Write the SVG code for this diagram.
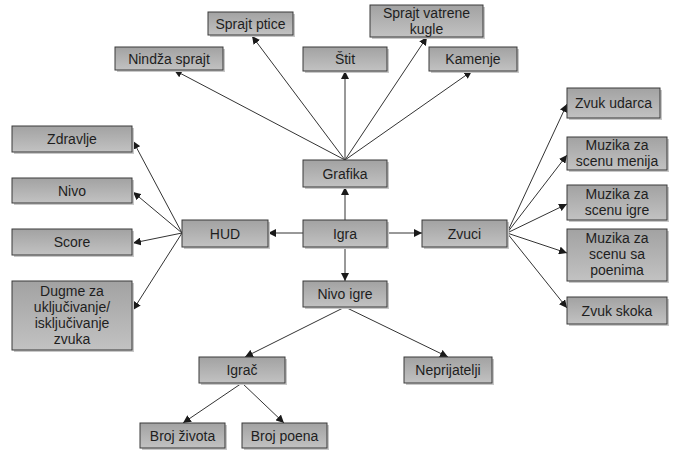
<svg xmlns="http://www.w3.org/2000/svg" width="678" height="451" viewBox="0 0 678 451">
<defs>
<linearGradient id="g" x1="0" y1="0" x2="0" y2="1">
<stop offset="0" stop-color="#a2a2a2"/>
<stop offset="1" stop-color="#c2c2c2"/>
</linearGradient>
<marker id="a" viewBox="0 0 10 10" refX="10" refY="5" markerWidth="8" markerHeight="8" markerUnits="userSpaceOnUse" orient="auto">
<path d="M0,0 L10,5 L0,10 z" fill="#1a1a1a"/>
</marker>
</defs>
<style>
.n rect.b{fill:url(#g);stroke:#3a3a3a;stroke-width:1}
.n rect.s{fill:#c8c8c8;stroke:none}
.n text{font-family:"Liberation Sans",Arial,sans-serif;font-size:14px;fill:#1e1e1e;text-anchor:middle}
#edges line{stroke:#333;stroke-width:1;marker-end:url(#a)}
</style>
<rect width="678" height="451" fill="#fff"/>
<g id="edges">
<line x1="345" y1="220" x2="345" y2="187"/>
<line x1="303" y1="233" x2="268" y2="233"/>
<line x1="387" y1="233" x2="422" y2="233"/>
<line x1="345" y1="247" x2="345" y2="281"/>
<line x1="345" y1="160" x2="174" y2="70"/>
<line x1="345" y1="160" x2="252" y2="36"/>
<line x1="345" y1="160" x2="345" y2="71"/>
<line x1="345" y1="160" x2="427" y2="37"/>
<line x1="345" y1="160" x2="472" y2="71"/>
<line x1="182" y1="233" x2="133" y2="141"/>
<line x1="182" y1="233" x2="133" y2="192"/>
<line x1="182" y1="233" x2="133" y2="243"/>
<line x1="182" y1="233" x2="133" y2="310"/>
<line x1="507" y1="233" x2="567" y2="104"/>
<line x1="507" y1="233" x2="567" y2="155"/>
<line x1="507" y1="233" x2="567" y2="204"/>
<line x1="507" y1="233" x2="567" y2="253"/>
<line x1="507" y1="233" x2="567" y2="308"/>
<line x1="345" y1="307" x2="245" y2="357"/>
<line x1="345" y1="307" x2="448" y2="357"/>
<line x1="242" y1="383" x2="183" y2="423"/>
<line x1="242" y1="383" x2="284" y2="423"/>
</g>
<g id="n-sprajt-ptice" class="n"><rect class="s" x="210" y="14" width="85" height="23"/><rect class="b" x="208" y="12" width="85" height="23"/><text x="250.5" y="28.5">Sprajt ptice</text></g>
<g id="n-nindza" class="n"><rect class="s" x="117" y="49" width="108" height="23"/><rect class="b" x="115" y="47" width="108" height="23"/><text x="169" y="63.5">Nindža sprajt</text></g>
<g id="n-stit" class="n"><rect class="s" x="305" y="49" width="84" height="24"/><rect class="b" x="303" y="47" width="84" height="24"/><text x="345" y="64">Štit</text></g>
<g id="n-vatrene" class="n"><rect class="s" x="372" y="7" width="113" height="32"/><rect class="b" x="370" y="5" width="113" height="32"/><text x="426.5" y="18">Sprajt vatrene</text><text x="426.5" y="33.5">kugle</text></g>
<g id="n-kamenje" class="n"><rect class="s" x="431" y="49" width="88" height="24"/><rect class="b" x="429" y="47" width="88" height="24"/><text x="473" y="64">Kamenje</text></g>
<g id="n-zdravlje" class="n"><rect class="s" x="14" y="128" width="120" height="26"/><rect class="b" x="12" y="126" width="120" height="26"/><text x="72" y="144">Zdravlje</text></g>
<g id="n-nivo" class="n"><rect class="s" x="14" y="180" width="120" height="25"/><rect class="b" x="12" y="178" width="120" height="25"/><text x="72" y="195.5">Nivo</text></g>
<g id="n-score" class="n"><rect class="s" x="14" y="231" width="120" height="26"/><rect class="b" x="12" y="229" width="120" height="26"/><text x="72" y="247">Score</text></g>
<g id="n-dugme" class="n"><rect class="s" x="14" y="283" width="120" height="69"/><rect class="b" x="12" y="281" width="120" height="69"/><text x="72" y="296">Dugme za</text><text x="72" y="312">uključivanje/</text><text x="72" y="328">isključivanje</text><text x="72" y="344">zvuka</text></g>
<g id="n-grafika" class="n"><rect class="s" x="305" y="162" width="84" height="27"/><rect class="b" x="303" y="160" width="84" height="27"/><text x="345" y="178.5">Grafika</text></g>
<g id="n-hud" class="n"><rect class="s" x="184" y="222" width="86" height="27"/><rect class="b" x="182" y="220" width="86" height="27"/><text x="225" y="238.5">HUD</text></g>
<g id="n-igra" class="n"><rect class="s" x="305" y="222" width="84" height="27"/><rect class="b" x="303" y="220" width="84" height="27"/><text x="345" y="238.5">Igra</text></g>
<g id="n-zvuci" class="n"><rect class="s" x="424" y="222" width="85" height="27"/><rect class="b" x="422" y="220" width="85" height="27"/><text x="464.5" y="238.5">Zvuci</text></g>
<g id="n-nivo-igre" class="n"><rect class="s" x="305" y="283" width="84" height="26"/><rect class="b" x="303" y="281" width="84" height="26"/><text x="345" y="299">Nivo igre</text></g>
<g id="n-zvuk-udarca" class="n"><rect class="s" x="569" y="90" width="93" height="30"/><rect class="b" x="567" y="88" width="93" height="30"/><text x="613.5" y="108">Zvuk udarca</text></g>
<g id="n-muzika-menija" class="n"><rect class="s" x="569" y="139" width="100" height="33"/><rect class="b" x="567" y="137" width="100" height="33"/><text x="617" y="149.5">Muzika za</text><text x="617" y="165.5">scenu menija</text></g>
<g id="n-muzika-igre" class="n"><rect class="s" x="569" y="187" width="100" height="35"/><rect class="b" x="567" y="185" width="100" height="35"/><text x="617" y="198.5">Muzika za</text><text x="617" y="214.5">scenu igre</text></g>
<g id="n-muzika-poenima" class="n"><rect class="s" x="569" y="231" width="100" height="52"/><rect class="b" x="567" y="229" width="100" height="52"/><text x="617" y="243">Muzika za</text><text x="617" y="259">scenu sa</text><text x="617" y="275">poenima</text></g>
<g id="n-zvuk-skoka" class="n"><rect class="s" x="569" y="299" width="100" height="27"/><rect class="b" x="567" y="297" width="100" height="27"/><text x="617" y="315.5">Zvuk skoka</text></g>
<g id="n-igrac" class="n"><rect class="s" x="201" y="359" width="86" height="26"/><rect class="b" x="199" y="357" width="86" height="26"/><text x="242" y="375">Igrač</text></g>
<g id="n-neprijatelji" class="n"><rect class="s" x="406" y="359" width="88" height="26"/><rect class="b" x="404" y="357" width="88" height="26"/><text x="448" y="375">Neprijatelji</text></g>
<g id="n-broj-zivota" class="n"><rect class="s" x="142" y="425" width="85" height="25"/><rect class="b" x="140" y="423" width="85" height="25"/><text x="182.5" y="440.5">Broj života</text></g>
<g id="n-broj-poena" class="n"><rect class="s" x="244" y="425" width="85" height="25"/><rect class="b" x="242" y="423" width="85" height="25"/><text x="284.5" y="440.5">Broj poena</text></g>
</svg>
